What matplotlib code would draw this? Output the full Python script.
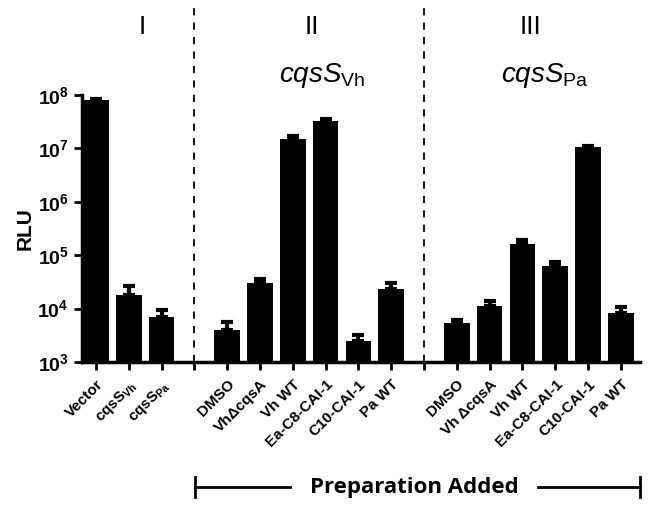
import matplotlib
matplotlib.use("Agg")
from matplotlib import pyplot as plt
from matplotlib.lines import Line2D
import numpy as np

plt.rcParams['font.family'] = ['Liberation Sans', 'DejaVu Sans']
plt.rcParams['mathtext.fontset'] = 'custom'
plt.rcParams['mathtext.rm'] = 'Liberation Sans'
plt.rcParams['mathtext.it'] = 'Liberation Sans:italic'
plt.rcParams['mathtext.bf'] = 'Liberation Sans:bold'

# bar labels, in order; empty strings are the gaps between groups
labels = ['Vector', r'cqsS$_{\mathbf{Vh}}$', r'cqsS$_{\mathbf{Pa}}$', '',
          'DMSO', 'Vh\u0394cqsA', 'Vh WT', 'Ea-C8-CAI-1', 'C10-CAI-1', 'Pa WT', '',
          'DMSO', 'Vh \u0394cqsA', 'Vh WT', 'Ea-C8-CAI-1', 'C10-CAI-1', 'Pa WT']
rlu = [8.0e7, 1.8e4, 7.0e3, np.nan,
       4.0e3, 3.0e4, 1.5e7, 3.3e7, 2.5e3, 2.3e4, np.nan,
       5.4e3, 1.13e4, 1.6e5, 6.2e4, 1.07e7, 8.4e3]
err_top = [8.4e7, 2.7e4, 9.5e3, np.nan,
           5.7e3, 3.6e4, 1.7e7, 3.5e7, 3.2e3, 3.0e4, np.nan,
           6.0e3, 1.4e4, 1.9e5, 7.5e4, 1.1e7, 1.05e4]
yticks = [1e3, 1e4, 1e5, 1e6, 1e7, 1e8]

x = np.arange(len(labels))
vals = np.array(rlu)
tops = np.array(err_top)

fig = plt.figure(figsize=(6.49, 5.08), dpi=100)
ax = fig.add_axes([0.1263, 0.2874, 0.8597, 0.5256])

ax.errorbar(x, vals, yerr=[np.zeros_like(vals), tops - vals], fmt='none',
            ecolor='black', elinewidth=3, capsize=4.5, capthick=3, zorder=1)
ax.bar(x, vals, width=0.78, color='black', zorder=2)

ax.set_yscale('log')
ax.set_ylim(1e3, 1e8)
ax.set_xlim(-0.43, 16.58)
ax.set_yticks(yticks)
ax.set_yticklabels([r'$\mathbf{10^{%d}}$' % int(np.log10(t)) for t in yticks], fontsize=14)
ax.minorticks_off()
ax.set_xticks(x)
ax.set_xticklabels(labels, rotation=45, ha='right', rotation_mode='anchor',
                   fontsize=11, fontweight='bold')
ax.tick_params(axis='both', width=2, length=6)
ax.tick_params(axis='x', pad=5)
ax.set_ylabel('RLU', fontsize=15, fontweight='bold', labelpad=2)

for s in ['top', 'right']:
    ax.spines[s].set_visible(False)
for s in ['left', 'bottom']:
    ax.spines[s].set_linewidth(2.5)

for g in [3, 10]:
    ax.axvline(g, ymin=0, ymax=1.34, color='black', ls=(0, (4, 4)), lw=1.3,
               clip_on=False, zorder=0)

fig.text(142 / 649, 1 - 27 / 508, 'I', ha='center', va='center', fontsize=19)
fig.text(312 / 649, 1 - 27 / 508, 'II', ha='center', va='center', fontsize=19)
fig.text(530 / 649, 1 - 27 / 508, 'III', ha='center', va='center', fontsize=19)
fig.text(322 / 649, 1 - 75 / 508, r'$cqsS_{\mathrm{Vh}}$', ha='center', va='center', fontsize=20)
fig.text(545 / 649, 1 - 75 / 508, r'$cqsS_{\mathrm{Pa}}$', ha='center', va='center', fontsize=20)

# "Preparation Added" bracket
yb = 1 - 487 / 508
fig.add_artist(Line2D([195 / 649, 290 / 649], [yb, yb], color='black', lw=2))
fig.add_artist(Line2D([538 / 649, 640 / 649], [yb, yb], color='black', lw=2))
for xe in [195, 640]:
    fig.add_artist(Line2D([xe / 649, xe / 649], [yb - 0.02, yb + 0.02], color='black', lw=2))
fig.text(414 / 649, yb, 'Preparation Added', ha='center', va='center',
         fontsize=16, fontweight='bold', family=['Open Sans', 'DejaVu Sans'])

fig.savefig('out.png', dpi=100)
